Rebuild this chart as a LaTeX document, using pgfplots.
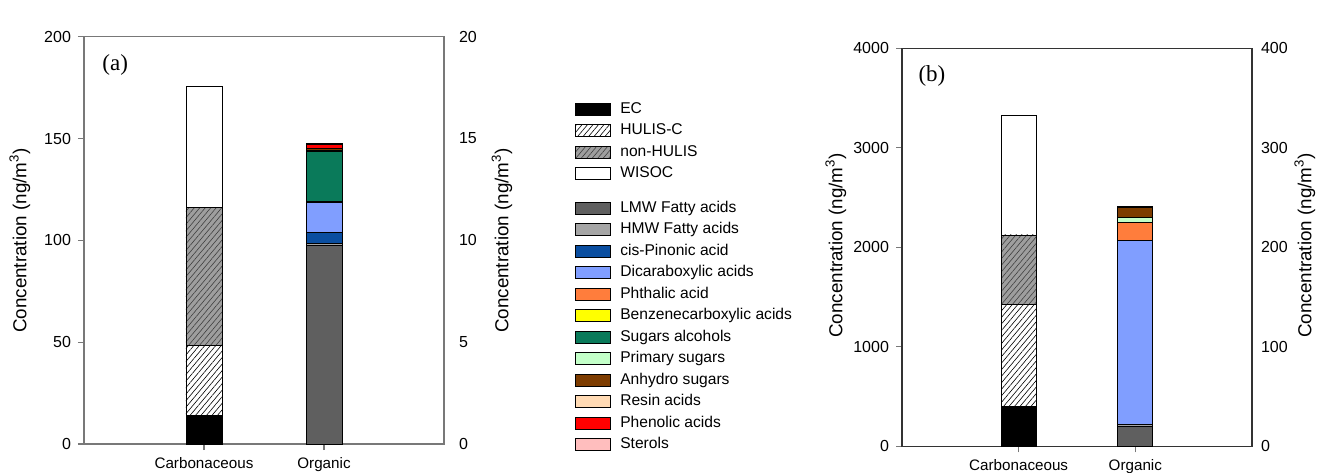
\documentclass[border=0pt]{standalone}
\usepackage{fontspec}
\setmainfont{Liberation Sans}
\newfontfamily\seriffont{Liberation Serif}
\usepackage{pgfplots}
\pgfplotsset{compat=1.18}
\usetikzlibrary{patterns.meta}

\definecolor{lmw}{RGB}{95,95,95}
\definecolor{hmw}{RGB}{165,165,165}
\definecolor{cispin}{RGB}{10,78,160}
\definecolor{dicarb}{RGB}{128,158,255}
\definecolor{phthal}{RGB}{255,125,60}
\definecolor{benz}{RGB}{255,255,0}
\definecolor{sugalc}{RGB}{10,122,90}
\definecolor{primsug}{RGB}{195,255,200}
\definecolor{anhydro}{RGB}{125,60,0}
\definecolor{resin}{RGB}{255,218,180}
\definecolor{phenol}{RGB}{255,0,0}
\definecolor{sterol}{RGB}{255,190,190}
\definecolor{axgray}{RGB}{120,120,120}

\pgfplotsset{
  base/.style={
    scale only axis, anchor=south west,
    xmin=0, xmax=3, ybar stacked, bar width=0.3,
    axis line style={axgray, line width=0.6pt},
    every tick/.style={axgray, line width=0.6pt},
    tick align=outside, major tick length=3pt,
    /pgf/number format/assume math mode=true,
    /pgf/number format/1000 sep={},
    tick label style={font=\fontsize{8}{9}\selectfont},
    ylabel style={font=\fontsize{9.4}{11}\selectfont, anchor=center},
    every axis plot/.append style={draw=black, line width=0.4pt},
    legend image code/.code={\draw[##1] (0pt,-3pt) rectangle (17.5pt,3pt);},
    legend style={draw=none, fill=none, inner sep=0pt, outer sep=0pt,
      font=\fontsize{7.8}{9}\selectfont, row sep=2.75pt,
      nodes={inner sep=0pt, text height=6pt, text depth=2pt},
      cells={anchor=west},
      /tikz/every odd column/.append style={column sep=4.75pt}},
    ylabel={Concentration (ng/m\textsuperscript{3})},
  },
  leftax/.style={base, xtick={1,2}, xticklabels={Carbonaceous,Organic},
    xtick pos=bottom, ytick pos=left,
    xticklabel style={font=\fontsize{7.6}{9}\selectfont}},
  rightax/.style={base, axis x line=none, axis y line*=right,
    major tick length=0pt, xtick=\empty},
  hulis/.style={fill=white, postaction={pattern={Lines[angle=50,distance=2.1pt,line width=0.3pt]}, pattern color=black}},
  nonhulis/.style={fill=black!38, postaction={pattern={Lines[angle=50,distance=2.1pt,line width=0.3pt]}, pattern color=black!75}},
}

\begin{document}
\begin{tikzpicture}
\useasboundingbox (0,0) rectangle (669pt,236pt);

% ---------------- Panel (a) ----------------
\begin{axis}[leftax, at={(42pt,14pt)}, width=180pt, height=203.65pt,
  ymin=0, ymax=200, ytick={0,50,...,200},
  ylabel style={at={(axis description cs:-0.178,0.5)}},
  legend style={at={(axis description cs:1.364,0.842)}, anchor=north west}]
\addplot[fill=black] coordinates {(1,13.9)};
\addplot[hulis] coordinates {(1,34.7)};
\addplot[nonhulis] coordinates {(1,67.6)};
\addplot[fill=white] coordinates {(1,59.2)};
\legend{EC,HULIS-C,non-HULIS,WISOC}
\node[anchor=west, inner sep=0pt, font=\seriffont\fontsize{11.5}{12}\selectfont] at (axis description cs:0.05,0.93) {(a)};
\end{axis}
\begin{axis}[rightax, at={(42pt,14pt)}, width=180pt, height=203.65pt,
  ymin=0, ymax=20, ytick={0,5,...,20},
  yticklabel style={xshift=4pt},
  ylabel style={at={(axis description cs:1.161,0.5)}}]
\addplot[fill=lmw] coordinates {(2,9.75)};
\addplot[fill=hmw] coordinates {(2,0.08)};
\addplot[fill=cispin] coordinates {(2,0.55)};
\addplot[fill=dicarb] coordinates {(2,1.48)};
\addplot[fill=phthal] coordinates {(2,0.04)};
\addplot[fill=benz] coordinates {(2,0.03)};
\addplot[fill=sugalc] coordinates {(2,2.42)};
\addplot[fill=primsug] coordinates {(2,0.05)};
\addplot[fill=anhydro] coordinates {(2,0.10)};
\addplot[fill=resin] coordinates {(2,0.02)};
\addplot[fill=phenol] coordinates {(2,0.20)};
\addplot[fill=sterol] coordinates {(2,0.04)};
\end{axis}

% ---------------- Panel (b) ----------------
\begin{axis}[leftax, at={(451pt,12.85pt)}, width=175pt, height=199pt,
  ymin=0, ymax=4000, ytick={0,1000,...,4000},
  axis line style={black!80, line width=0.6pt},
  ylabel style={at={(axis description cs:-0.189,0.505)}}]
\addplot[fill=black] coordinates {(1,398)};
\addplot[hulis] coordinates {(1,1029)};
\addplot[nonhulis] coordinates {(1,697)};
\addplot[fill=white] coordinates {(1,1199)};
\node[anchor=west, inner sep=0pt, font=\seriffont\fontsize{11.5}{12}\selectfont] at (axis description cs:0.046,0.93) {(b)};
\end{axis}
\begin{axis}[rightax, at={(451pt,12.85pt)}, width=175pt, height=199pt,
  ymin=0, ymax=400, ytick={0,100,...,400},
  yticklabel style={xshift=1pt},
  axis line style={black!80, line width=0.6pt},
  ylabel style={at={(axis description cs:1.151,0.505)}},
  legend style={at={(axis description cs:-0.9343,0.6188)}, anchor=north west}]
\addplot[fill=lmw] coordinates {(2,19.7)};
\addplot[fill=hmw] coordinates {(2,2.0)};
\addplot[fill=cispin] coordinates {(2,0.5)};
\addplot[fill=dicarb] coordinates {(2,185.0)};
\addplot[fill=phthal] coordinates {(2,17.4)};
\addplot[fill=benz] coordinates {(2,0.3)};
\addplot[fill=sugalc] coordinates {(2,0.5)};
\addplot[fill=primsug] coordinates {(2,4.5)};
\addplot[fill=anhydro] coordinates {(2,10.3)};
\addplot[fill=resin] coordinates {(2,0.2)};
\addplot[fill=phenol] coordinates {(2,0.2)};
\addplot[fill=sterol] coordinates {(2,0.1)};
\legend{LMW Fatty acids,HMW Fatty acids,cis-Pinonic acid,Dicaraboxylic acids,Phthalic acid,Benzenecarboxylic acids,Sugars alcohols,Primary sugars,Anhydro sugars,Resin acids,Phenolic acids,Sterols}
\end{axis}
\end{tikzpicture}
\end{document}
